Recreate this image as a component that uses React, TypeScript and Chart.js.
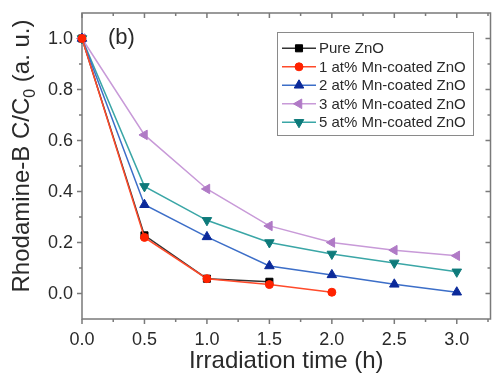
import React, { useEffect, useRef } from "react";
import { Chart, registerables } from "chart.js";

Chart.register(...registerables);

// Irradiation times (h)
const times = [0, 0.5, 1.0, 1.5, 2.0, 2.5, 3.0];

// Normalised Rhodamine-B concentration C/C0 for each sample
const pureZnO = [1.0, 0.228, 0.058, 0.046];
const mn1 = [1.0, 0.22, 0.058, 0.035, 0.005];
const mn2 = [1.0, 0.348, 0.222, 0.108, 0.073, 0.036, 0.005];
const mn3 = [1.0, 0.622, 0.41, 0.265, 0.2, 0.17, 0.148];
const mn5 = [1.0, 0.42, 0.287, 0.2, 0.155, 0.12, 0.085];

const seriesLabels = [
  "Pure ZnO",
  "1 at% Mn-coated ZnO",
  "2 at% Mn-coated ZnO",
  "3 at% Mn-coated ZnO",
  "5 at% Mn-coated ZnO",
];

// Major tick values
const xTickValues = [0, 0.5, 1.0, 1.5, 2.0, 2.5, 3.0];
const yTickValues = [0, 0.2, 0.4, 0.6, 0.8, 1.0];

const xTitle = "Irradiation time (h)";
const panelLabel = "(b)";

const FONT = "'Liberation Sans', Arial, sans-serif";
const AXIS_COLOR = "#7a7a7a";
const TEXT_COLOR = "#2a2a2a";

type Marker = { style: string; rotation: number; radius: number };

const styles = [
  { line: "#333333", fill: "#000000", marker: { style: "rect", rotation: 0, radius: 5 } },
  { line: "#ff4a2a", fill: "#ff2200", marker: { style: "circle", rotation: 0, radius: 4 } },
  { line: "#3c6ec8", fill: "#0b2a9a", marker: { style: "triangle", rotation: 0, radius: 5.5 } },
  { line: "#c89ad8", fill: "#b07ac6", marker: { style: "triangle", rotation: 270, radius: 5.5 } },
  { line: "#3aa6a6", fill: "#0e7a7a", marker: { style: "triangle", rotation: 180, radius: 5.5 } },
];

const seriesValues = [pureZnO, mn1, mn2, mn3, mn5];

function drawMarker(ctx: CanvasRenderingContext2D, m: Marker, x: number, y: number, color: string) {
  ctx.save();
  ctx.fillStyle = color;
  ctx.strokeStyle = color;
  ctx.lineWidth = 1;
  ctx.translate(x, y);
  ctx.rotate((m.rotation * Math.PI) / 180);
  ctx.beginPath();
  if (m.style === "rect") {
    const s = Math.SQRT1_2 * m.radius;
    ctx.rect(-s, -s, 2 * s, 2 * s);
  } else if (m.style === "circle") {
    ctx.arc(0, 0, m.radius, 0, Math.PI * 2);
  } else {
    const r = m.radius;
    ctx.moveTo(0, -r);
    ctx.lineTo(r * Math.sin((Math.PI / 3) * 2), r * 0.5);
    ctx.lineTo(-r * Math.sin((Math.PI / 3) * 2), r * 0.5);
    ctx.closePath();
  }
  ctx.fill();
  ctx.stroke();
  ctx.restore();
}

function minorValues(min: number, max: number, step: number, majors: number[]) {
  const out: number[] = [];
  const n = Math.floor((max - min) / step + 1e-6);
  const start = Math.ceil(min / step - 1e-6) * step;
  for (let k = 0; k <= n + 1; k++) {
    const v = Math.round((start + k * step) * 1000) / 1000;
    if (v <= min + 1e-6 || v >= max - 1e-6) continue;
    if (!majors.some((m) => Math.abs(m - v) < 1e-6)) out.push(v);
  }
  return out;
}

// Frame, major/minor ticks, tick labels and axis titles
const axesPlugin = {
  id: "originAxes",
  beforeDatasetsDraw(chart: any) {
    const { ctx, chartArea: a, scales } = chart;
    const xs = scales.x;
    const ys = scales.y;
    ctx.save();
    ctx.strokeStyle = AXIS_COLOR;
    ctx.lineWidth = 1.5;
    ctx.strokeRect(a.left, a.top, a.right - a.left, a.bottom - a.top);

    const majorLen = 5;
    const minorLen = 3;

    const xMajor: number[] = xs.ticks.map((t: any) => t.value);
    const yMajor: number[] = ys.ticks.map((t: any) => t.value);
    const xMinor = minorValues(xs.min, xs.max, 0.25, xMajor);
    const yMinor = minorValues(ys.min, ys.max, 0.1, yMajor);

    ctx.beginPath();
    const xTick = (v: number, len: number) => {
      const px = xs.getPixelForValue(v);
      ctx.moveTo(px, a.bottom);
      ctx.lineTo(px, a.bottom + len);
      ctx.moveTo(px, a.top);
      ctx.lineTo(px, a.top + len);
    };
    const yTick = (v: number, len: number) => {
      const py = ys.getPixelForValue(v);
      ctx.moveTo(a.left, py);
      ctx.lineTo(a.left - len, py);
      ctx.moveTo(a.right, py);
      ctx.lineTo(a.right - len, py);
    };
    xMajor.forEach((v) => xTick(v, majorLen));
    xMinor.forEach((v) => xTick(v, minorLen));
    yMajor.forEach((v) => yTick(v, majorLen));
    yMinor.forEach((v) => yTick(v, minorLen));
    ctx.stroke();

    // tick labels
    ctx.fillStyle = TEXT_COLOR;
    ctx.font = `18px ${FONT}`;
    ctx.textAlign = "center";
    ctx.textBaseline = "alphabetic";
    xMajor.forEach((v) => {
      ctx.fillText(v.toFixed(1), xs.getPixelForValue(v), a.bottom + 26);
    });
    ctx.textAlign = "right";
    ctx.textBaseline = "middle";
    yMajor.forEach((v) => {
      ctx.fillText(v.toFixed(1), a.left - 9, ys.getPixelForValue(v) + 1);
    });

    // x title
    ctx.font = `24px ${FONT}`;
    ctx.textAlign = "center";
    ctx.textBaseline = "alphabetic";
    ctx.fillText(xTitle, (a.left + a.right) / 2, 368);

    // y title with subscript
    const main = "Rhodamine-B C/C";
    const sub = "0";
    const rest = " (a. u.)";
    ctx.font = `24px ${FONT}`;
    const wMain = ctx.measureText(main).width;
    const wRest = ctx.measureText(rest).width;
    ctx.font = `16px ${FONT}`;
    const wSub = ctx.measureText(sub).width;
    const total = wMain + wSub + wRest;
    ctx.translate(29, 156);
    ctx.rotate(-Math.PI / 2);
    ctx.textAlign = "left";
    ctx.font = `24px ${FONT}`;
    let x0 = -total / 2;
    ctx.fillText(main, x0, 0);
    x0 += wMain;
    ctx.font = `16px ${FONT}`;
    ctx.fillText(sub, x0, 6);
    x0 += wSub;
    ctx.font = `24px ${FONT}`;
    ctx.fillText(rest, x0, 0);
    ctx.restore();

    // panel label
    ctx.save();
    ctx.fillStyle = TEXT_COLOR;
    ctx.font = `22px ${FONT}`;
    ctx.textAlign = "left";
    ctx.textBaseline = "alphabetic";
    ctx.fillText(panelLabel, 108, 44);
    ctx.restore();
  },
};

// Boxed legend inside the plot area
const legendPlugin = {
  id: "boxLegend",
  afterDatasetsDraw(chart: any) {
    const { ctx } = chart;
    const left = 277;
    const top = 32;
    const width = 196;
    const height = 103;
    ctx.save();
    ctx.fillStyle = "#ffffff";
    ctx.fillRect(left, top, width, height);
    ctx.strokeStyle = "#8a8a8a";
    ctx.lineWidth = 1;
    ctx.strokeRect(left + 0.5, top + 0.5, width, height);
    seriesLabels.forEach((label, i) => {
      const y = 48.3 + i * 18.5;
      const st = styles[i];
      ctx.strokeStyle = st.line;
      ctx.lineWidth = 1.5;
      ctx.beginPath();
      ctx.moveTo(282, y);
      ctx.lineTo(316, y);
      ctx.stroke();
      drawMarker(ctx, st.marker as Marker, 299, y, st.fill);
      ctx.fillStyle = TEXT_COLOR;
      ctx.font = `15px ${FONT}`;
      ctx.textAlign = "left";
      ctx.textBaseline = "middle";
      ctx.fillText(label, 319, y + 1);
    });
    ctx.restore();
  },
};

export default function App() {
  const canvasRef = useRef<HTMLCanvasElement | null>(null);

  useEffect(() => {
    const canvas = canvasRef.current;
    if (!canvas) return;
    const datasets = seriesValues.map((vals, i) => ({
      label: seriesLabels[i],
      data: vals.map((v, j) => ({ x: times[j], y: v })),
      borderColor: styles[i].line,
      backgroundColor: styles[i].fill,
      pointBackgroundColor: styles[i].fill,
      pointBorderColor: styles[i].fill,
      pointBorderWidth: 1,
      pointStyle: styles[i].marker.style,
      pointRotation: styles[i].marker.rotation,
      pointRadius: styles[i].marker.radius,
      borderWidth: 1.5,
      tension: 0,
      clip: false as any,
      order: i === 0 ? 1 : 0,
    }));

    const chart = new Chart(canvas, {
      type: "line",
      data: { datasets },
      plugins: [axesPlugin, legendPlugin],
      options: {
        animation: false,
        responsive: false,
        devicePixelRatio: 1,
        layout: { padding: { left: 0, top: 13, right: 4, bottom: 0 } },
        plugins: { legend: { display: false }, tooltip: { enabled: false } },
        events: [],
        scales: {
          x: {
            type: "linear",
            min: 0,
            max: 3.27,
            ticks: { display: false },
            grid: { display: false, drawTicks: false },
            border: { display: false },
            afterBuildTicks: (s: any) => {
              s.ticks = xTickValues.map((value) => ({ value }));
            },
            afterFit: (s: any) => {
              s.height = 57;
            },
          },
          y: {
            type: "linear",
            min: -0.1,
            max: 1.1,
            ticks: { display: false },
            grid: { display: false, drawTicks: false },
            border: { display: false },
            afterBuildTicks: (s: any) => {
              s.ticks = yTickValues.map((value) => ({ value }));
            },
            afterFit: (s: any) => {
              s.width = 82;
            },
          },
        },
      },
    });
    return () => chart.destroy();
  }, []);

  return (
    <div style={{ position: "fixed", left: 0, top: 0, width: 497, height: 376, background: "#fff" }}>
      <canvas ref={canvasRef} width={497} height={376} style={{ width: 497, height: 376 }} />
    </div>
  );
}
